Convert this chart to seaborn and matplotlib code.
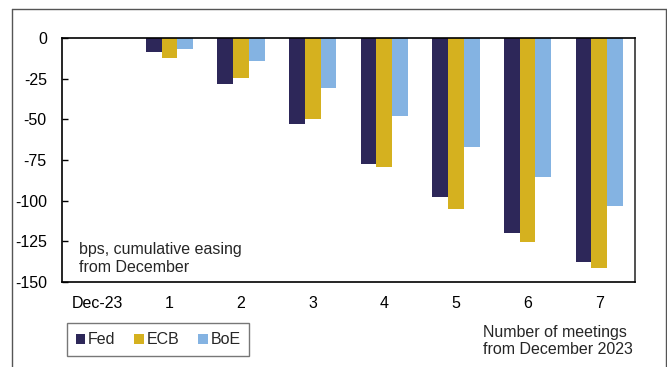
import matplotlib
matplotlib.use("Agg")
import matplotlib.pyplot as plt
from matplotlib.lines import Line2D
from matplotlib.patches import Patch
import seaborn as sns
import pandas as pd

# Cumulative easing priced in, bps, by number of meetings from December 2023
meetings = ["Dec-23", "1", "2", "3", "4", "5", "6", "7"]
fed = [0, -8.6, -28.1, -52.7, -77.5, -97.7, -119.7, -137.7]
ecb = [0, -12.3, -24.6, -49.6, -79.1, -104.9, -125.2, -141.6]
boe = [0, -6.8, -14.4, -30.5, -47.8, -67.0, -85.7, -103.5]
banks = ["Fed", "ECB", "BoE"]
colors = ["#2D2759", "#D5B11F", "#84B3E2"]
y_ticks = [0, -25, -50, -75, -100, -125, -150]

df = pd.DataFrame({
    "meeting": meetings * 3,
    "bank": ["Fed"] * 8 + ["ECB"] * 8 + ["BoE"] * 8,
    "bps": fed + ecb + boe,
})

FS = 11.5

sns.set_theme(style="white")
plt.rcParams["font.family"] = ["Liberation Sans", "DejaVu Sans"]
plt.rcParams["font.size"] = FS

fig = plt.figure(figsize=(6.67, 3.67), dpi=100)
ax = fig.add_axes([0.093, 0.2316, 0.859, 0.665])

sns.barplot(data=df, x="meeting", y="bps", hue="bank", order=meetings,
            hue_order=banks, palette=colors, saturation=1, width=0.66,
            linewidth=0, legend=False, ax=ax)

ax.set_xlim(-0.5, len(meetings) - 0.5)
ax.set_ylim(-150, 0)
ax.set_yticks(y_ticks)
ax.set_yticklabels([str(t) for t in y_ticks])
ax.set_xlabel("")
ax.set_ylabel("")
ax.tick_params(axis="y", direction="in", length=4, width=1, color="black",
               pad=11, labelsize=FS, labelcolor="black", left=True)
ax.tick_params(axis="x", length=0, pad=10, labelsize=FS, labelcolor="black")
for side in ["left", "right", "top", "bottom"]:
    ax.spines[side].set_visible(True)
    ax.spines[side].set_color("black")
    ax.spines[side].set_linewidth(1.2)
ax.spines["right"].set_color("#333333")

ax.text(0.03, 0.03, "bps, cumulative easing\nfrom December",
        transform=ax.transAxes, fontsize=FS, ha="left", va="bottom",
        linespacing=1.2)

fig.text(483 / 667, 1 - 357 / 367, "Number of meetings\nfrom December 2023",
         fontsize=FS, ha="left", va="bottom", linespacing=1.2)

handles = [Patch(facecolor=c, edgecolor="none", label=b)
           for b, c in zip(banks, colors)]
leg = fig.legend(handles=handles, loc="lower left",
                 bbox_to_anchor=(67 / 667, 1 - 356 / 367), ncol=3,
                 frameon=True, fancybox=False, edgecolor="#555555",
                 handlelength=0.6, handleheight=0.6, handletextpad=0.15,
                 columnspacing=1.2, borderpad=0.55, borderaxespad=0,
                 fontsize=FS)
leg.get_frame().set_linewidth(1.0)

# Outer panel border (open at the bottom)
fx0, fx1, fy1 = 11.5 / 667, 665.5 / 667, 1 - 9 / 367
for xs, ys in [([fx0, fx0], [0, fy1]), ([fx0, fx1], [fy1, fy1]),
               ([fx1, fx1], [fy1, 0])]:
    fig.add_artist(Line2D(xs, ys, transform=fig.transFigure,
                          color="#555555", linewidth=1.0))

fig.savefig("out.png", dpi=100)
